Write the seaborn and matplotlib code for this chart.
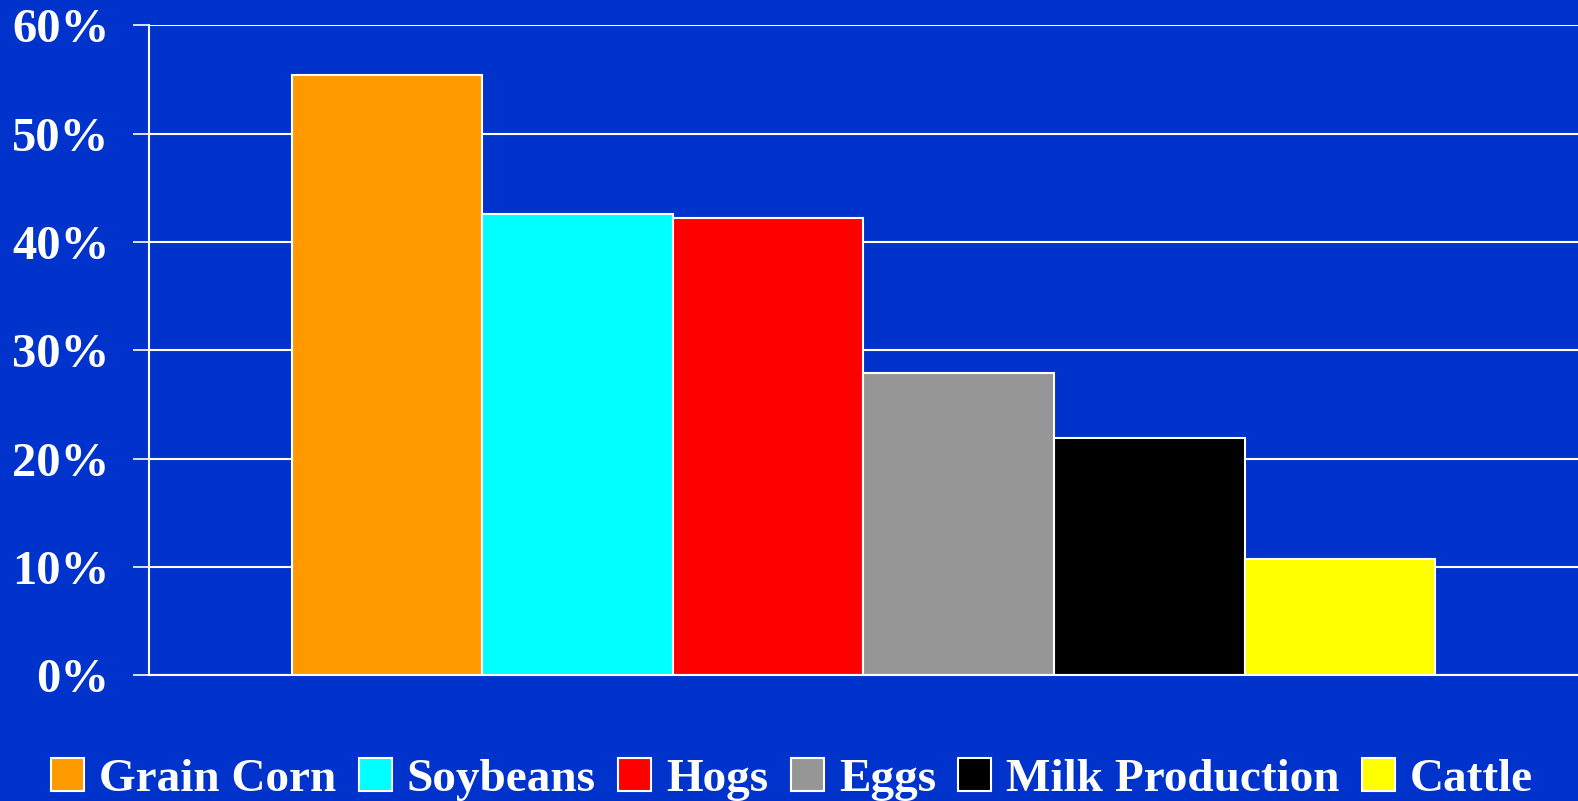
import pandas as pd
import matplotlib.pyplot as plt
import seaborn as sns
from matplotlib.ticker import PercentFormatter

# Chart data
products = ['Grain Corn', 'Soybeans', 'Hogs', 'Eggs', 'Milk Production', 'Cattle']
shares = [55.4, 42.6, 42.2, 27.9, 21.9, 10.7]
bar_colors = ['#FF9900', '#00FFFF', '#FF0000', '#969696', '#000000', '#FFFF00']
y_ticks = [0, 10, 20, 30, 40, 50, 60]

bg = '#0033CC'

df = pd.DataFrame({'group': [''] * len(products), 'product': products, 'share': shares})

sns.set_style('white')
plt.rcParams['font.family'] = ['Liberation Serif', 'DejaVu Serif']
plt.rcParams['font.weight'] = 'bold'

fig = plt.figure(figsize=(15.78, 8.01), dpi=100, facecolor=bg)
ax = fig.add_axes([0.0944, 0.157, 0.9056, 0.8115])
ax.set_facecolor(bg)

sns.barplot(data=df, x='group', y='share', hue='product', hue_order=products,
            palette=bar_colors, edgecolor='white', linewidth=1.5, width=0.8,
            saturation=1, ax=ax, legend=True)

ax.set_xlim(-0.5, 0.5)
ax.set_ylim(0, 60)
ax.set_yticks(y_ticks)
ax.yaxis.set_major_formatter(PercentFormatter(decimals=0))
ax.grid(axis='y', color='white', linewidth=1.5)
ax.set_axisbelow(True)
ax.set_xlabel('')
ax.set_ylabel('')
ax.set_xticks([])

for side in ['top', 'right']:
    ax.spines[side].set_visible(False)
for side in ['left', 'bottom']:
    ax.spines[side].set_color('white')
    ax.spines[side].set_linewidth(1.5)

ax.tick_params(axis='y', left=True, direction='out', colors='white', length=11.5,
               width=1.2, pad=17, labelsize=35, labelcolor='white')
for lbl in ax.get_yticklabels():
    lbl.set_fontweight('bold')

handles, labels = ax.get_legend_handles_labels()
ax.get_legend().remove()
leg = fig.legend(handles, labels, loc='center', bbox_to_anchor=(0.502, 0.027), ncol=6,
                 frameon=False, fontsize=34, handlelength=0.7, handleheight=0.7,
                 handletextpad=0.32, columnspacing=0.47, borderaxespad=0)
for t in leg.get_texts():
    t.set_color('white')
    t.set_fontweight('bold')
for h in leg.legend_handles:
    h.set_edgecolor('white')
    h.set_linewidth(1.5)

fig.savefig('out.png', dpi=100, facecolor=bg)
